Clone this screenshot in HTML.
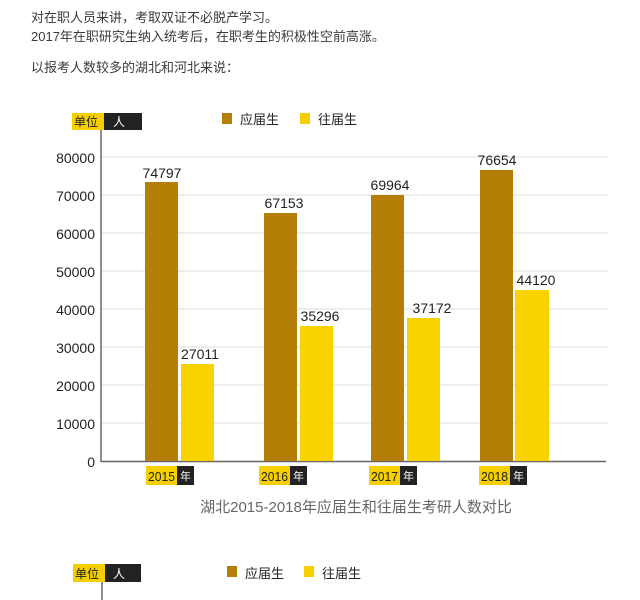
<!DOCTYPE html>
<html><head><meta charset="utf-8"><style>
body{margin:0;width:640px;height:600px;background:#fff;overflow:hidden;font-family:"Liberation Sans","Noto Sans CJK SC",sans-serif;}
</style></head><body>
<svg width="640" height="600" xmlns="http://www.w3.org/2000/svg" style="position:absolute;left:0;top:0" font-family="Liberation Sans, Noto Sans CJK SC, sans-serif">
<g fill="#3a3a3a" font-size="13">
<text x="31" y="22">对在职人员来讲，考取双证不必脱产学习。</text>
<text x="31" y="41">2017年在职研究生纳入统考后，在职考生的积极性空前高涨。</text>
<text x="31" y="72">以报考人数较多的湖北和河北来说：</text>
</g>
<rect x="72" y="113" width="32" height="17" fill="#f5cf00"/>
<rect x="104" y="113" width="38" height="17" fill="#222"/>
<text x="74" y="126" font-size="12" fill="#222">单位</text>
<text x="113" y="126" font-size="12" fill="#fff">人</text>
<rect x="222" y="113" width="10" height="11" fill="#b57e06"/>
<text x="240" y="124" font-size="13" fill="#222">应届生</text>
<rect x="300" y="113" width="10" height="11" fill="#f5cf00"/>
<text x="318" y="124" font-size="13" fill="#222">往届生</text>
<g stroke="#ddd" stroke-width="1">
<line x1="102" y1="157" x2="608" y2="157"/><line x1="102" y1="195" x2="608" y2="195"/>
<line x1="102" y1="233" x2="608" y2="233"/><line x1="102" y1="271" x2="608" y2="271"/>
<line x1="102" y1="309" x2="608" y2="309"/><line x1="102" y1="347" x2="608" y2="347"/>
<line x1="102" y1="385" x2="608" y2="385"/><line x1="102" y1="423" x2="608" y2="423"/>
</g>
<line x1="101" y1="130" x2="101" y2="462" stroke="#444" stroke-width="1.2"/>
<line x1="101" y1="461.5" x2="606" y2="461.5" stroke="#666" stroke-width="1.5"/>
<g font-size="14" fill="#222" text-anchor="end">
<text x="95" y="163">80000</text><text x="95" y="201">70000</text><text x="95" y="239">60000</text>
<text x="95" y="277">50000</text><text x="95" y="315">40000</text><text x="95" y="353">30000</text>
<text x="95" y="391">20000</text><text x="95" y="429">10000</text><text x="95" y="467">0</text>
</g>
<g fill="#b57e06">
<rect x="145" y="182" width="33" height="279"/><rect x="264" y="213" width="33" height="248"/>
<rect x="371" y="195" width="33" height="266"/><rect x="480" y="170" width="33" height="291"/>
</g>
<g fill="#f9d300">
<rect x="181" y="364" width="33" height="97"/><rect x="300" y="326" width="33" height="135"/>
<rect x="407" y="318" width="33" height="143"/><rect x="515" y="290" width="34" height="171"/>
</g>
<g font-size="14" fill="#222" text-anchor="middle">
<text x="162" y="178">74797</text><text x="200" y="359">27011</text>
<text x="284" y="208">67153</text><text x="320" y="321">35296</text>
<text x="390" y="190">69964</text><text x="432" y="313">37172</text>
<text x="497" y="165">76654</text><text x="536" y="285">44120</text>
</g>
<g font-size="13">
<rect x="146" y="466" width="31" height="19" fill="#f5cf00"/><rect x="177" y="466" width="17" height="19" fill="#222"/>
<text x="148" y="481" fill="#222" textLength="27" lengthAdjust="spacingAndGlyphs">2015</text><text x="180" y="480" font-size="11" fill="#fff">年</text>
<rect x="259" y="466" width="31" height="19" fill="#f5cf00"/><rect x="290" y="466" width="17" height="19" fill="#222"/>
<text x="261" y="481" fill="#222" textLength="27" lengthAdjust="spacingAndGlyphs">2016</text><text x="293" y="480" font-size="11" fill="#fff">年</text>
<rect x="369" y="466" width="31" height="19" fill="#f5cf00"/><rect x="400" y="466" width="17" height="19" fill="#222"/>
<text x="371" y="481" fill="#222" textLength="27" lengthAdjust="spacingAndGlyphs">2017</text><text x="403" y="480" font-size="11" fill="#fff">年</text>
<rect x="479" y="466" width="31" height="19" fill="#f5cf00"/><rect x="510" y="466" width="17" height="19" fill="#222"/>
<text x="481" y="481" fill="#222" textLength="27" lengthAdjust="spacingAndGlyphs">2018</text><text x="513" y="480" font-size="11" fill="#fff">年</text>
</g>
<text x="356" y="512" font-size="15" fill="#666" text-anchor="middle">湖北2015-2018年应届生和往届生考研人数对比</text>
<rect x="73" y="564" width="32" height="18" fill="#f5cf00"/>
<rect x="105" y="564" width="36" height="18" fill="#222"/>
<text x="75" y="578" font-size="12" fill="#222">单位</text>
<text x="113" y="578" font-size="12" fill="#fff">人</text>
<line x1="102" y1="582" x2="102" y2="600" stroke="#444" stroke-width="1.2"/>
<rect x="227" y="566" width="10" height="11" fill="#b57e06"/>
<text x="245" y="578" font-size="13" fill="#222">应届生</text>
<rect x="304" y="566" width="10" height="11" fill="#f5cf00"/>
<text x="322" y="578" font-size="13" fill="#222">往届生</text>
</svg>
</body></html>
